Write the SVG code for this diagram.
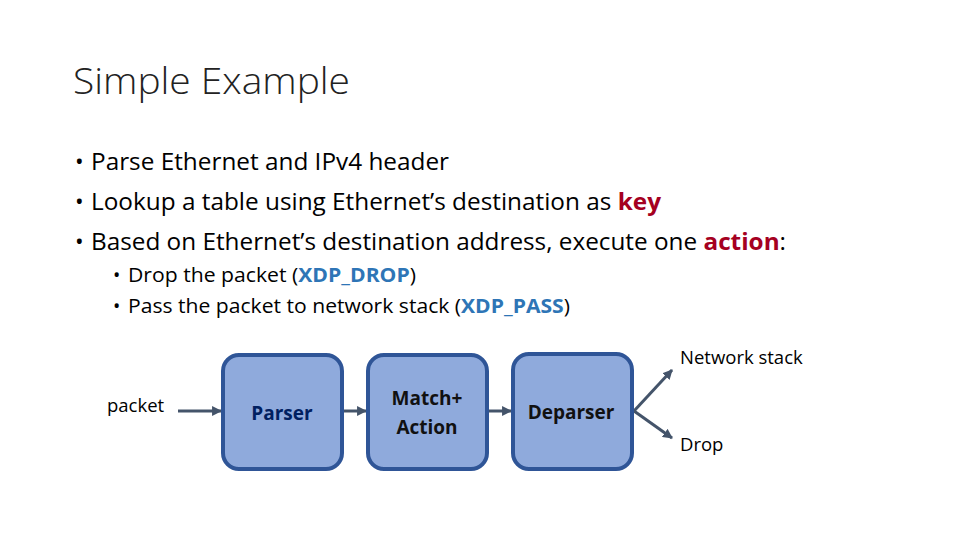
<svg xmlns="http://www.w3.org/2000/svg" width="960" height="540" viewBox="0 0 960 540">
<defs>
<style>
text{font-family:"Open Sans","Liberation Sans",sans-serif;fill:#000}
.title{font-size:37px;font-weight:300;fill:#222}
.b1{font-size:23px}
.b2{font-size:19.5px}
.red{fill:#A50021;font-weight:bold}
.blue{fill:#2E75B6;font-weight:bold}
.box{fill:#8FAADC;stroke:#2F5597;stroke-width:4}
.lbl{font-size:19px;font-weight:bold;fill:#111;text-anchor:middle}
.navy{fill:#002060}
.plain{font-size:18.5px}
.conn{stroke:#44546A;stroke-width:3;fill:none;marker-end:url(#ah)}
</style>
<marker id="ah" viewBox="0 0 10 10" refX="9" refY="5" markerWidth="3.3" markerHeight="3.3" orient="auto"><path d="M0,0 L10,5 L0,10 z" fill="#44546A"/></marker>
</defs>
<rect width="960" height="540" fill="#fff"/>
<text class="title" x="73" y="94" textLength="277" lengthAdjust="spacingAndGlyphs">Simple Example</text>
<text class="b1" x="75" y="170">•</text>
<text class="b1" x="91" y="170" textLength="358" lengthAdjust="spacingAndGlyphs">Parse Ethernet and IPv4 header</text>
<text class="b1" x="75" y="210">•</text>
<text class="b1" x="91" y="210" textLength="570" lengthAdjust="spacingAndGlyphs">Lookup a table using Ethernet’s destination as <tspan class="red">key</tspan></text>
<text class="b1" x="75" y="250">•</text>
<text class="b1" x="91" y="250" textLength="695" lengthAdjust="spacingAndGlyphs">Based on Ethernet’s destination address, execute one <tspan class="red">action</tspan>:</text>
<text class="b2" x="113" y="282">•</text>
<text class="b2" x="128" y="282" textLength="288" lengthAdjust="spacingAndGlyphs">Drop the packet (<tspan class="blue">XDP_DROP</tspan>)</text>
<text class="b2" x="113" y="313">•</text>
<text class="b2" x="128" y="313" textLength="442" lengthAdjust="spacingAndGlyphs">Pass the packet to network stack (<tspan class="blue">XDP_PASS</tspan>)</text>
<g id="connectors">
<line class="conn" x1="178" y1="411" x2="221" y2="411"/>
<line class="conn" x1="343" y1="411" x2="366" y2="411"/>
<line class="conn" x1="488" y1="411" x2="511" y2="411"/>
<line class="conn" x1="634" y1="411" x2="672" y2="370"/>
<line class="conn" x1="634" y1="411" x2="672" y2="438"/>
</g>
<g id="packet"><text class="plain" x="107" y="412">packet</text></g>
<g id="parser"><rect class="box" x="223" y="355" width="119" height="114" rx="16"/><text class="lbl navy" x="282" y="420">Parser</text></g>
<g id="match"><rect class="box" x="368" y="355" width="119" height="114" rx="16"/><text class="lbl" x="427" y="405">Match+</text><text class="lbl" x="427" y="434">Action</text></g>
<g id="deparser"><rect class="box" x="513" y="354" width="119" height="115" rx="16"/><text class="lbl" x="571" y="419">Deparser</text></g>
<g id="netstack"><text class="plain" x="680" y="364">Network stack</text></g>
<g id="drop"><text class="plain" x="680" y="451">Drop</text></g>
</svg>
